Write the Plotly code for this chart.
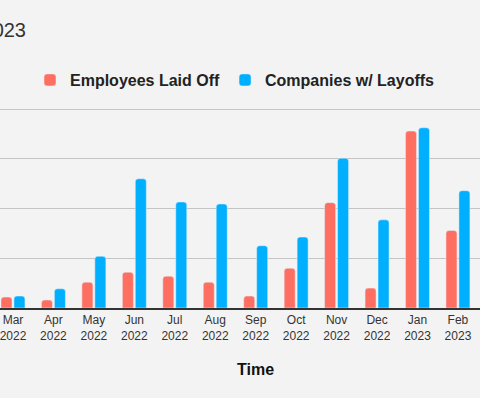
import plotly.graph_objects as go

months = ["Mar<br>2022", "Apr<br>2022", "May<br>2022", "Jun<br>2022", "Jul<br>2022", "Aug<br>2022",
          "Sep<br>2022", "Oct<br>2022", "Nov<br>2022", "Dec<br>2022", "Jan<br>2023", "Feb<br>2023"]
employees_laid_off = [5500, 4000, 13000, 18000, 16000, 13000, 6000, 20000, 53000, 10000, 89000, 39000]
companies_with_layoffs = [18, 29, 78, 195, 160, 157, 94, 107, 226, 133, 272, 177]

W, H = 480, 398
PLOT_TOP, PLOT_BOTTOM = 108, 308

fig = go.Figure()
fig.add_trace(go.Bar(
    x=list(range(len(months))), y=employees_laid_off, name="Employees Laid Off",
    marker_color="#FF6F61", offsetgroup="1", yaxis="y",
))
fig.add_trace(go.Bar(
    x=list(range(len(months))), y=companies_with_layoffs, name="Companies w/ Layoffs",
    marker_color="#00B0FF", offsetgroup="2", yaxis="y2",
))

font = "Liberation Sans, Arial, sans-serif"
plot_h = PLOT_BOTTOM - PLOT_TOP
fig.update_layout(
    width=W, height=H,
    margin=dict(l=0, r=0, t=PLOT_TOP, b=H - PLOT_BOTTOM),
    paper_bgcolor="#F3F3F3", plot_bgcolor="#F3F3F3",
    font=dict(family=font, color="#333333"),
    barmode="group", bargap=0.36, bargroupgap=0.15, barcornerradius=3,
    title=dict(text="Tech Layoffs: Mar 2022 \u2013 Feb 2023", x=26 / W, xanchor="right",
               xref="container", y=1 - 30 / H, yanchor="middle", yref="container",
               font=dict(size=20, color="#333333", family=font)),
    legend=dict(orientation="h", x=235 / W, xanchor="center", y=1 - 80 / H, yanchor="middle",
                yref="container", font=dict(size=16, color="#222222", family=font, weight="bold"),
                bgcolor="rgba(0,0,0,0)", traceorder="normal"),
    showlegend=True,
    xaxis=dict(tickmode="array", tickvals=list(range(len(months))), ticktext=months,
               range=[-0.321, 11.545], showgrid=False, zeroline=False,
               showline=True, linecolor="#333333", linewidth=1.5, ticks="",
               ticklabeloverflow="allow",
               tickfont=dict(size=12, color="#333333")),
    yaxis=dict(range=[0, 100600], dtick=25000, tick0=0, showticklabels=False,
               gridcolor="#C4C4C4", gridwidth=1, zeroline=False),
    yaxis2=dict(range=[0, 301.8], dtick=75, showticklabels=False, showgrid=False,
                zeroline=False, overlaying="y", side="right"),
    annotations=[dict(text="Time", x=255 / W, xref="paper", xanchor="center",
                      y=(PLOT_BOTTOM - 369) / plot_h, yref="paper", yanchor="middle",
                      showarrow=False,
                      font=dict(size=16, color="#111111", family=font, weight="bold"))],
)

fig.write_html("out.html", config={"displayModeBar": False},
               post_script="document.body.style.margin='0';document.body.style.padding='0';")
